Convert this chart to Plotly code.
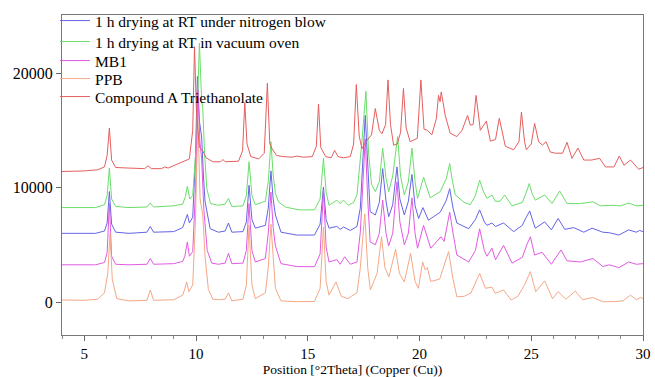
import plotly.graph_objects as go

# ---- Data ----
red_x = [4.0, 5.0, 5.6, 5.9, 6.02, 6.12, 6.22, 6.4, 7.0, 7.7, 7.85, 8.0, 8.45, 8.6, 8.75, 9.3, 9.7, 9.85, 9.93, 10.02,
         10.15, 10.3, 10.45, 10.75, 11.1, 11.2, 11.3, 11.9, 12.08, 12.18, 12.28, 12.45, 12.8, 13.05, 13.19, 13.3, 13.4,
         13.6, 13.9, 14.3, 14.5, 14.8, 15.2, 15.38, 15.48, 15.58, 15.8, 16.05, 16.2, 16.35, 16.6, 16.9, 17.05, 17.17,
         17.3, 17.42, 17.6, 17.85, 18.02, 18.2, 18.32, 18.48, 18.59, 18.7, 18.84, 19.0, 19.15, 19.28, 19.4, 19.58, 19.9,
         20.06, 20.2, 20.35, 20.55, 20.75, 20.85, 20.92, 20.97, 21.15, 21.37, 21.67, 21.9, 22.15, 22.27, 22.4, 22.53,
         22.72, 22.99, 23.17, 23.4, 23.57, 23.84, 24.21, 24.45, 24.56, 24.7, 24.78, 25.0, 25.15, 25.33, 25.5, 25.66,
         25.85, 26.08, 26.4, 26.6, 26.82, 27.09, 27.35, 27.7, 28.06, 28.32, 28.7, 28.94, 29.15, 29.44, 29.81, 30.0]
red_y = [11400, 11450, 11550, 11800, 12800, 15200, 12400, 11750, 11700, 11650, 11900, 11650, 11650, 11800, 11700, 12150,
         12500, 15000, 22300, 16500, 13500, 13200, 12600, 12250, 12250, 12450, 12250, 12300, 13200, 17400, 13800, 12700,
         12500, 13000, 19100, 13800, 13400, 12800, 12700, 12650, 12750, 12650, 12700, 13600, 17300, 13500, 12700, 12600,
         13250, 12700, 12600, 12700, 13800, 19000, 14500, 13400, 14000, 14600, 16900, 15000, 14700, 15500, 19400, 15500,
         13700, 13800, 14800, 18650, 15200, 14000, 14300, 19400, 15100, 15000, 14600, 16000, 18050, 17500, 18350, 16300,
         14750, 14450, 15000, 16300, 15450, 15500, 18050, 15000, 15800, 14050, 14200, 16050, 13600, 13300, 14000, 16600,
         14000, 13300, 13800, 15600, 14000, 13700, 14000, 13100, 13000, 13000, 13950, 12550, 13450, 12400, 12400, 12550,
         11800, 11800, 12750, 11950, 12400, 11600, 11750]

green_x = [4.0, 5.5, 5.9, 6.02, 6.12, 6.22, 6.4, 7.0, 7.8, 7.95, 8.1, 9.0, 9.4, 9.52, 9.61, 9.72, 9.85, 10.0, 10.15,
           10.25, 10.3, 10.38, 10.48, 10.65, 11.0, 11.3, 11.45, 11.6, 12.1, 12.25, 12.37, 12.5, 12.65, 13.1, 13.23,
           13.35, 13.45, 13.55, 13.69, 14.0, 14.6, 15.3, 15.55, 15.7, 15.82, 15.95, 16.3, 16.45, 16.6, 16.82, 17.05,
           17.2, 17.42, 17.6, 17.72, 17.85, 18.02, 18.2, 18.35, 18.5, 18.62, 18.8, 19.02, 19.15, 19.32, 19.5, 19.66,
           19.8, 19.91, 20.18, 20.48, 20.93, 21.2, 21.35, 21.45, 21.6, 22.0, 22.27, 22.5, 22.69, 22.85, 23.02, 23.24,
           23.39, 23.6, 23.81, 24.14, 24.6, 24.8, 24.91, 25.05, 25.18, 25.6, 25.93, 26.27, 26.6, 27.2, 27.76, 28.1,
           28.6, 29.0, 29.36, 29.7, 30.0]
green_y = [8250, 8250, 8500, 9300, 11700, 9000, 8350, 8250, 8300, 8650, 8300, 8400, 8550, 9200, 10100, 9000, 9300,
           13500, 22600, 17500, 16900, 13000, 9900, 8600, 8450, 8550, 9050, 8350, 8400, 9300, 12250, 9300, 8500, 8800,
           10500, 14000, 11100, 9500, 8750, 8300, 8050, 8050, 9000, 12550, 9600, 8450, 8900, 8600, 8900, 8450, 8700,
           9350, 14000, 18400, 13000, 10300, 9650, 10500, 13450, 10800, 9650, 11000, 14450, 11000, 9350, 10500, 13450,
           10500, 9050, 10900, 9100, 9650, 10800, 12100, 10800, 9350, 8700, 8500, 9300, 10650, 9700, 9050, 9350, 8800,
           8800, 9350, 8400, 8700, 9700, 10350, 9400, 8900, 9350, 8600, 9700, 8600, 8600, 8750, 8400, 8450, 8400, 8650,
           8400, 8450]

blue_x = [4.0, 5.5, 5.9, 6.02, 6.12, 6.22, 6.4, 7.0, 7.8, 7.95, 8.1, 9.0, 9.4, 9.5, 9.61, 9.7, 9.85, 9.97, 10.06,
          10.15, 10.25, 10.33, 10.4, 10.63, 11.0, 11.3, 11.45, 11.6, 12.1, 12.25, 12.37, 12.5, 12.65, 13.1, 13.23,
          13.35, 13.45, 13.55, 13.8, 14.5, 15.3, 15.55, 15.7, 15.82, 15.95, 16.3, 16.45, 16.6, 16.9, 17.2, 17.35,
          17.57, 17.68, 17.79, 18.02, 18.2, 18.35, 18.5, 18.62, 18.8, 18.99, 19.12, 19.32, 19.5, 19.66, 19.8, 19.96,
          20.15, 20.4, 20.93, 21.2, 21.35, 21.5, 21.67, 22.2, 22.5, 22.69, 22.9, 23.02, 23.24, 23.4, 23.76, 24.21,
          24.6, 24.8, 24.93, 25.1, 25.18, 25.6, 25.9, 26.2, 26.5, 26.9, 27.1, 27.35, 27.72, 28.2, 28.5, 28.92, 29.36,
          29.7, 29.85, 30.0]
blue_y = [6000, 6000, 6200, 6900, 9650, 6800, 6100, 6000, 6100, 6600, 6100, 6150, 6500, 7000, 7650, 6900, 7400, 12500,
          19700, 15800, 14400, 11000, 8800, 6400, 6100, 6200, 6900, 6100, 6150, 7000, 10200, 7200, 6450, 6700, 8200,
          11450, 9000, 7600, 6100, 5850, 5850, 6800, 10050, 7200, 6450, 6600, 6350, 6550, 6250, 6600, 8200, 16300,
          11500, 7900, 7600, 8700, 11650, 8800, 7450, 8500, 11800, 9000, 7600, 8800, 11150, 8400, 7300, 8250, 7150,
          7850, 8900, 9900, 8200, 6900, 6400, 7200, 8050, 7000, 6700, 6900, 6600, 6900, 6150, 6700, 7500, 7950, 6900,
          6450, 7000, 6300, 7300, 6350, 6500, 6350, 6100, 6450, 6100, 6050, 5850, 6300, 6100, 6250, 6150]

mb1_x = [4.0, 5.5, 5.9, 6.02, 6.12, 6.22, 6.4, 7.0, 7.8, 7.95, 8.1, 9.0, 9.4, 9.5, 9.61, 9.7, 9.85, 9.98, 10.08,
         10.17, 10.25, 10.35, 10.5, 10.7, 11.0, 11.3, 11.45, 11.6, 12.1, 12.25, 12.37, 12.5, 12.65, 13.1, 13.23, 13.35,
         13.45, 13.55, 13.8, 14.5, 15.3, 15.55, 15.7, 15.82, 15.95, 16.3, 16.45, 16.65, 16.9, 17.2, 17.35, 17.57,
         17.68, 17.79, 18.02, 18.2, 18.35, 18.5, 18.62, 18.8, 18.99, 19.12, 19.32, 19.5, 19.66, 19.8, 19.91, 20.18,
         20.5, 20.96, 21.1, 21.35, 21.5, 21.67, 22.2, 22.5, 22.69, 22.9, 23.02, 23.24, 23.4, 23.76, 24.14, 24.6, 24.8,
         24.96, 25.15, 25.48, 25.9, 26.33, 26.6, 27.2, 27.76, 28.2, 28.5, 28.92, 29.36, 29.7, 30.0]
mb1_y = [3250, 3250, 3450, 4300, 8600, 4000, 3300, 3250, 3300, 3800, 3300, 3350, 3550, 4000, 5250, 4000, 4400, 10000,
         18500, 14000, 12500, 8000, 4500, 3400, 3300, 3400, 4250, 3350, 3400, 4500, 8600, 4500, 3500, 3800, 6000, 9600,
         6500, 4900, 3350, 3100, 3080, 4200, 9750, 4800, 3500, 3700, 3300, 3950, 3300, 3500, 6100, 14250, 9000, 5250,
         5000, 6000, 8900, 6000, 4900, 6000, 10500, 7000, 5000, 6000, 9100, 6000, 4700, 6700, 4700, 5700, 5300, 7850,
         6000, 4100, 3500, 4500, 6400, 4500, 4000, 4700, 3700, 4950, 3400, 3900, 5000, 5700, 4100, 4350, 3300, 4550,
         3600, 3500, 3800, 3100, 3250, 3000, 3500, 3300, 3350]

ppb_x = [4.0, 5.0, 5.6, 5.9, 6.05, 6.15, 6.25, 6.45, 7.0, 7.8, 7.95, 8.1, 9.0, 9.4, 9.5, 9.58, 9.68, 9.85, 9.97, 10.08,
         10.18, 10.3, 10.4, 10.55, 10.75, 11.0, 11.3, 11.45, 11.6, 12.1, 12.25, 12.37, 12.5, 12.65, 13.1, 13.23, 13.35,
         13.45, 13.55, 13.8, 14.5, 15.3, 15.55, 15.7, 15.82, 15.95, 16.26, 16.5, 16.8, 16.95, 17.2, 17.35, 17.55, 17.68,
         17.8, 18.1, 18.3, 18.45, 18.63, 18.93, 19.1, 19.32, 19.6, 19.8, 19.95, 20.14, 20.25, 20.35, 20.5, 20.9, 21.3,
         21.5, 21.67, 22.0, 22.3, 22.69, 22.95, 23.24, 23.39, 23.76, 24.1, 24.4, 24.7, 24.96, 25.2, 25.6, 25.95, 26.2,
         26.55, 26.97, 27.3, 27.75, 28.2, 28.7, 29.1, 29.44, 29.7, 29.9, 30.0]
ppb_y = [180, 150, 250, 800, 2500, 6000, 2000, 300, 100, 150, 1050, 150, 200, 600, 1200, 1750, 900, 1500, 7000, 16000,
         9000, 7600, 4000, 1100, 250, 200, 250, 800, 100, 250, 1500, 6700, 1500, 300, 800, 3000, 6800, 3500, 1200, 100,
         30, 50, 1200, 6550, 1800, 600, 1750, 500, 300, 500, 800, 3000, 7700, 3000, 1050, 2500, 5700, 3000, 2200, 4600,
         2500, 1750, 4250, 1800, 1200, 3500, 2800, 3000, 1800, 2000, 4400, 2000, 450, 500, 800, 2500, 1200, 1300, 760,
         1050, 175, 500, 1500, 2650, 900, 1850, 300, 900, 250, 950, 200, 400, 30, 30, 100, 600, 200, 400, 300]

series_names = ["1 h drying at RT under nitrogen blow", "1 h drying at RT in vacuum oven", "MB1", "PPB",
                "Compound A Triethanolate"]
series_colors = ["#6464e6", "#6ade6a", "#e25ae2", "#f5a886", "#e65e5e"]
series_x = [blue_x, green_x, mb1_x, ppb_x, red_x]
series_y = [blue_y, green_y, mb1_y, ppb_y, red_y]

x_ticks = [5, 10, 15, 20, 25, 30]
y_ticks = [0, 10000, 20000]
y_tick_text = ["0", "10000", "20000"]

FONT = "Liberation Serif"

# plot area in pixels (for legend placement)
PLOT_TOP, PLOT_BOTTOM = 15, 335
legend_rows_px = [21, 42, 61, 79, 97]
legend_ids = ["legend", "legend2", "legend3", "legend4", "legend5"]

fig = go.Figure()
for name, color, xs, ys, lid in zip(series_names, series_colors, series_x, series_y, legend_ids):
    fig.add_trace(go.Scatter(x=xs, y=ys, mode="lines", name=name, legend=lid,
                             line=dict(color=color, width=1)))

legend_layout = {}
for lid, py in zip(legend_ids, legend_rows_px):
    legend_layout[lid] = dict(
        x=-0.012, y=(PLOT_BOTTOM - py) / (PLOT_BOTTOM - PLOT_TOP), xanchor="left", yanchor="middle",
        bgcolor="rgba(0,0,0,0)", borderwidth=0, itemwidth=30,
        font=dict(family=FONT, size=15.5, color="black"))

fig.update_layout(
    width=655, height=377,
    margin=dict(l=62, r=12, t=PLOT_TOP, b=377 - PLOT_BOTTOM, autoexpand=False),
    paper_bgcolor="white", plot_bgcolor="white",
    font=dict(family=FONT, size=14, color="black"),
    showlegend=True,
    xaxis=dict(range=[4, 30], tickvals=x_ticks, ticks="outside", ticklen=5, tickcolor="#666",
               minor=dict(dtick=1, ticks="outside", ticklen=3, tickcolor="#888"),
               showgrid=False, zeroline=False, showline=True, linecolor="#777", linewidth=1, mirror=True,
               automargin=False,
               title=dict(text="Position [°2Theta] (Copper (Cu))",
                          font=dict(family=FONT, size=13.5, color="black")),
               tickfont=dict(family=FONT, size=15, color="black")),
    yaxis=dict(range=[-2880, 25070], tickvals=y_ticks, ticktext=y_tick_text, ticks="outside", ticklen=5,
               tickcolor="#666", showgrid=False, zeroline=False, showline=True, linecolor="#777", linewidth=1,
               mirror=True, automargin=False,
               tickfont=dict(family=FONT, size=16, color="black")),
    **legend_layout,
)

fig.write_html("out.html")
